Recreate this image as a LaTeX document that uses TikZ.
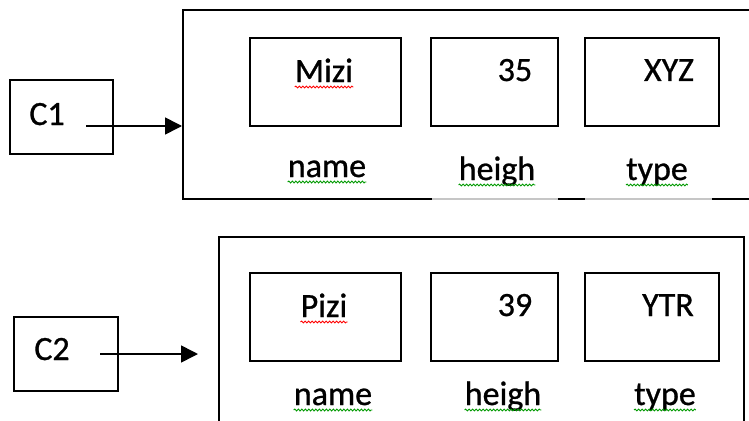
\documentclass[tikz,border=0pt]{standalone}
\usepackage{fontspec}
\setmainfont{Carlito}
\usetikzlibrary{arrows.meta,decorations.pathmorphing}
\tikzset{
  frame/.style={draw, line width=2pt, inner sep=0pt},
  word/.style={inner sep=0pt, anchor=base, font=\fontsize{34}{40}\selectfont\addfontfeatures{FakeBold=0.8}},
  squig/.style={decorate, decoration={snake, segment length=3.5pt, amplitude=0.9pt}, line width=0.9pt},
  ptr/.style={line width=1.6pt, -{Triangle[length=17pt,width=17pt]}}
}
\begin{document}
\begin{tikzpicture}[x=1pt,y=-1pt]
    \useasboundingbox (0,0) rectangle (749,420);
    \clip (0,0) rectangle (749,420);
    % first record
    \node[frame, minimum width=103pt, minimum height=74pt] (c1box) at (61.5,117) {};
    \node[word] (c1) at (47,125) {C1};
    \node[frame, minimum width=600pt, minimum height=189pt] (rec1) at (483,104.5) {};
    \draw [line width=2.1pt, gray!45] (432,199) -- (558,199);
    \draw [line width=2.1pt, gray!45] (585,199) -- (712,199);
    \node[frame, minimum width=151pt, minimum height=88pt] (namebox1) at (325.5,82) {};
    \node[frame, minimum width=127pt, minimum height=88pt] (heighbox1) at (494.5,82) {};
    \node[frame, minimum width=134pt, minimum height=88pt] (typebox1) at (652,82) {};
    \node[word] (mizi) at (324,82) {Mizi};
    \node[word] (h35) at (515,81) {35};
    \node[word] (xyz) at (669,81) {XYZ};
    \node[word] (name1) at (327,177) {name};
    \node[word] (heigh1) at (497,180) {heigh};
    \node[word] (type1) at (657,180) {type};
    \coordinate (c1tail) at (86,126);
    \draw [ptr] (c1tail) -- (c1tail -| rec1.west);
    % second record
    \node[frame, minimum width=104pt, minimum height=74pt] (c2box) at (66,354) {};
    \node[word] (c2) at (52,360) {C2};
    \node[frame, minimum width=525pt, minimum height=200pt] (rec2) at (481.5,337) {};
    \node[frame, minimum width=151pt, minimum height=88pt] (namebox2) at (325.5,317) {};
    \node[frame, minimum width=127pt, minimum height=88pt] (heighbox2) at (494.5,317) {};
    \node[frame, minimum width=134pt, minimum height=88pt] (typebox2) at (652,317) {};
    \node[word] (pizi) at (324,317) {Pizi};
    \node[word] (h39) at (515,316) {39};
    \node[word] (ytr) at (668,316) {YTR};
    \node[word] (name2) at (333,405) {name};
    \node[word] (heigh2) at (503,405) {heigh};
    \node[word] (type2) at (665,405) {type};
    \coordinate (c2tail) at (100,354);
    \coordinate (c2head) at (198,354);
    \draw [ptr] (c2tail) -- (c2head);
    % spelling marks
    \foreach \w/\c in {mizi/red, pizi/red, name1/green!60!black, heigh1/green!60!black,
        type1/green!60!black, name2/green!60!black, heigh2/green!60!black, type2/green!60!black}
        \draw [squig, \c] ([yshift=-5pt]\w.base west) -- ([yshift=-5pt]\w.base east);
\end{tikzpicture}
\end{document}
